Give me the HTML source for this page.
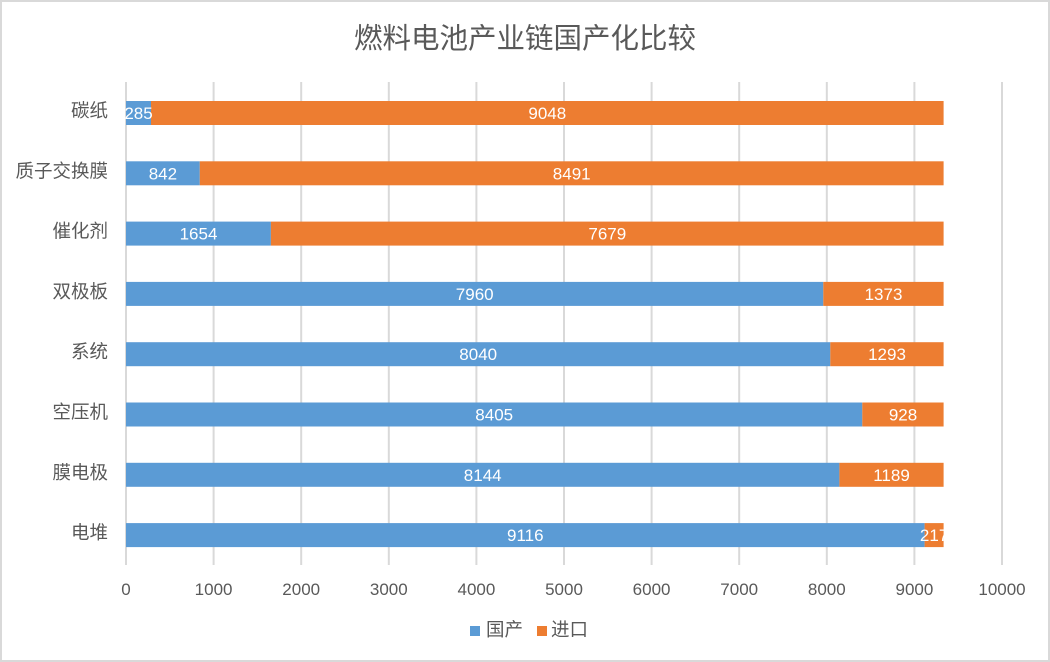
<!DOCTYPE html>
<html><head><meta charset="utf-8"><style>
html,body{margin:0;padding:0;background:#fff;}
svg{display:block;}
text{font-family:"Liberation Sans","Noto Sans CJK SC",sans-serif;}
</style></head><body>
<svg width="1050" height="662" viewBox="0 0 1050 662" xmlns="http://www.w3.org/2000/svg">
<rect x="1" y="1" width="1048" height="660" fill="#fff" stroke="#d9d9d9" stroke-width="2"/>
<text x="525" y="48" font-size="28.5" fill="#595959" text-anchor="middle">燃料电池产业链国产化比较</text>
<g stroke="#d9d9d9" stroke-width="2">
<line x1="126" y1="82" x2="126" y2="565"/>
<line x1="213.6" y1="82" x2="213.6" y2="565"/>
<line x1="301.2" y1="82" x2="301.2" y2="565"/>
<line x1="388.8" y1="82" x2="388.8" y2="565"/>
<line x1="476.4" y1="82" x2="476.4" y2="565"/>
<line x1="564" y1="82" x2="564" y2="565"/>
<line x1="651.6" y1="82" x2="651.6" y2="565"/>
<line x1="739.2" y1="82" x2="739.2" y2="565"/>
<line x1="826.8" y1="82" x2="826.8" y2="565"/>
<line x1="914.4" y1="82" x2="914.4" y2="565"/>
<line x1="1002" y1="82" x2="1002" y2="565"/>
</g>
<g font-size="17" fill="#595959" text-anchor="middle">
<text x="126" y="595">0</text>
<text x="213.6" y="595">1000</text>
<text x="301.2" y="595">2000</text>
<text x="388.8" y="595">3000</text>
<text x="476.4" y="595">4000</text>
<text x="564" y="595">5000</text>
<text x="651.6" y="595">6000</text>
<text x="739.2" y="595">7000</text>
<text x="826.8" y="595">8000</text>
<text x="914.4" y="595">9000</text>
<text x="1002" y="595">10000</text>
</g>
<g>
<rect x="126" y="101" width="25" height="24" fill="#5b9bd5"/><rect x="151" y="101" width="792.6" height="24" fill="#ed7d31"/>
<rect x="126" y="161.3" width="73.8" height="24" fill="#5b9bd5"/><rect x="199.8" y="161.3" width="743.8" height="24" fill="#ed7d31"/>
<rect x="126" y="221.6" width="144.9" height="24" fill="#5b9bd5"/><rect x="270.9" y="221.6" width="672.7" height="24" fill="#ed7d31"/>
<rect x="126" y="281.9" width="697.3" height="24" fill="#5b9bd5"/><rect x="823.3" y="281.9" width="120.3" height="24" fill="#ed7d31"/>
<rect x="126" y="342.2" width="704.3" height="24" fill="#5b9bd5"/><rect x="830.3" y="342.2" width="113.3" height="24" fill="#ed7d31"/>
<rect x="126" y="402.5" width="736.3" height="24" fill="#5b9bd5"/><rect x="862.3" y="402.5" width="81.3" height="24" fill="#ed7d31"/>
<rect x="126" y="462.8" width="713.4" height="24" fill="#5b9bd5"/><rect x="839.4" y="462.8" width="104.2" height="24" fill="#ed7d31"/>
<rect x="126" y="523.1" width="798.6" height="24" fill="#5b9bd5"/><rect x="924.6" y="523.1" width="19" height="24" fill="#ed7d31"/>
</g>
<g font-size="17" fill="#ffffff" text-anchor="middle">
<text x="138.5" y="119">285</text><text x="547.3" y="119">9048</text>
<text x="162.9" y="179.3">842</text><text x="571.7" y="179.3">8491</text>
<text x="198.5" y="239.6">1654</text><text x="607.3" y="239.6">7679</text>
<text x="474.7" y="299.9">7960</text><text x="883.5" y="299.9">1373</text>
<text x="478.2" y="360.2">8040</text><text x="887" y="360.2">1293</text>
<text x="494.2" y="420.5">8405</text><text x="903" y="420.5">928</text>
<text x="482.7" y="480.8">8144</text><text x="891.5" y="480.8">1189</text>
<text x="525.3" y="541.1">9116</text><text x="934.1" y="541.1">217</text>
</g>
<g font-size="18.5" fill="#595959" text-anchor="end">
<text x="108" y="117">碳纸</text>
<text x="108" y="177.3">质子交换膜</text>
<text x="108" y="237.6">催化剂</text>
<text x="108" y="297.9">双极板</text>
<text x="108" y="358.2">系统</text>
<text x="108" y="418.5">空压机</text>
<text x="108" y="478.8">膜电极</text>
<text x="108" y="539.1">电堆</text>
</g>
<rect x="470" y="626" width="10" height="10" fill="#5b9bd5"/>
<text x="486" y="636" font-size="18.5" fill="#595959">国产</text>
<rect x="537" y="626" width="10" height="10" fill="#ed7d31"/>
<text x="551" y="636" font-size="18.5" fill="#595959">进口</text>
</svg>
</body></html>
